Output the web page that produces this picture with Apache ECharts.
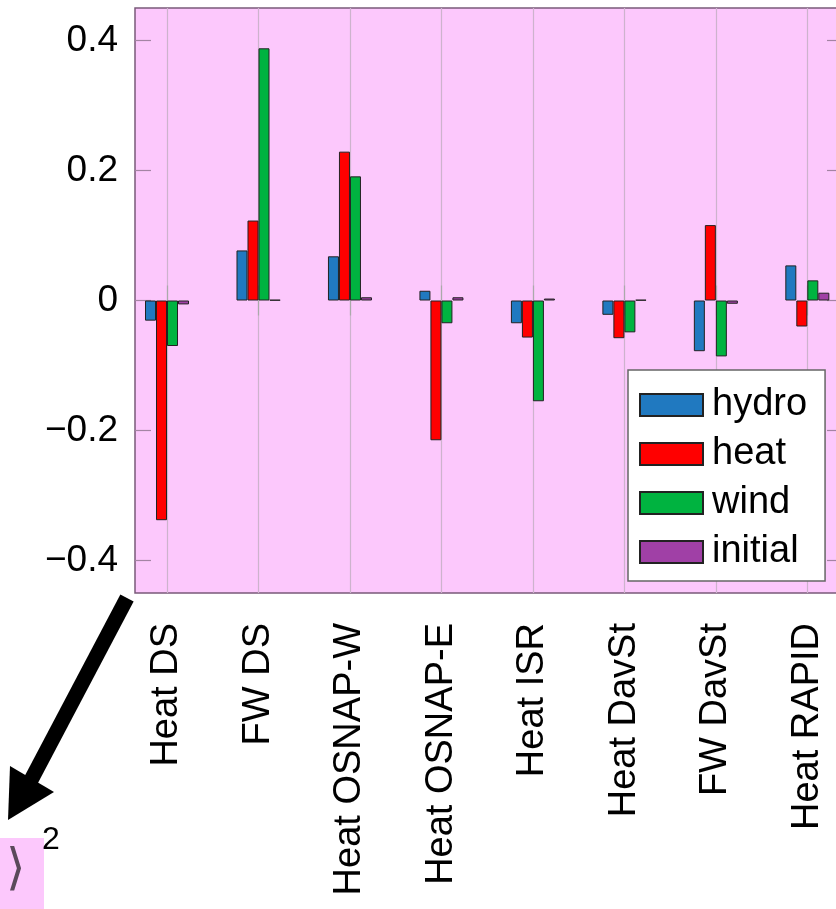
<!DOCTYPE html>
<html>
<head>
<meta charset="utf-8">
<script src="https://cdn.jsdelivr.net/npm/echarts@6/dist/echarts.min.js"></script>
<style>
  html, body { margin: 0; padding: 0; background: #fff; }
  #chart { width: 836px; height: 909px; }
</style>
</head>
<body>
<div id="chart"></div>
<script>
// initialize the echarts instance
var myChart = echarts.init(document.getElementById("chart"));
var option;

// categories along x (placed at 1..8)
const categories = ["Heat DS", "FW DS", "Heat OSNAP-W", "Heat OSNAP-E", "Heat ISR", "Heat DavSt", "FW DavSt", "Heat RAPID"];

// values
const hydro   = [-0.031, 0.077, 0.068,  0.015, -0.035, -0.022, -0.078,  0.054];
const heat    = [-0.338, 0.123, 0.229, -0.215, -0.057, -0.058,  0.116, -0.040];
const wind    = [-0.070, 0.388, 0.191, -0.035, -0.155, -0.049, -0.086,  0.031];
const initial = [-0.006, 0.001, 0.005,  0.005,  0.003,  0.001, -0.005,  0.012];

const yTicks = [-0.4, -0.2, 0, 0.2, 0.4];
const xTicks = categories.map((c, i) => i + 1);

const font = "Liberation Sans";

function barSeries(name, values, color) {
    return {
        name: name,
        type: "bar",
        barWidth: 11,
        barGap: "0%",
        data: values.map((v, i) => [i + 1, v]),
        itemStyle: { color: color, borderColor: "#222", borderWidth: 1 },
        emphasis: { disabled: true },
    };
}

option = {
    animation: false,
    textStyle: { fontFamily: font },
    // plot area runs a little past the right edge of the picture
    grid: {
        left: 135, top: 8, width: 708, height: 585,
        outerBoundsMode: "none",
        containLabel: false,
        show: true,
        backgroundColor: "#fcc8fc",
        borderColor: "#7a5a7a",
        borderWidth: 1.5,
    },
    legend: {
        orient: "vertical",
        left: 628, top: 370,
        backgroundColor: "#fff",
        borderColor: "#666",
        borderWidth: 1.5,
        borderRadius: 0,
        padding: [16, 18, 10, 11],
        itemWidth: 63, itemHeight: 22, itemGap: 11,
        icon: "rect",
        textStyle: { fontFamily: font, fontSize: 38, lineHeight: 38, color: "#000", padding: [0, 0, 0, 4] },
        data: ["hydro", "heat", "wind", "initial"],
    },
    xAxis: [
        {
            type: "value",
            min: 0.65, max: 8.39,
            axisLine: { show: false },
            axisTick: { show: true, inside: false, length: 15, customValues: xTicks, lineStyle: { color: "#aaa", width: 1.2 } },
            axisLabel: {
                customValues: xTicks,
                rotate: 90, margin: 30,
                fontSize: 38, color: "#000", fontFamily: font,
                formatter: (v) => categories[Math.round(v) - 1] || "",
            },
            splitLine: { show: true, lineStyle: { color: "#cdb3cd", width: 1.2 } },
        },
        {
            type: "value",
            position: "top",
            min: 0.65, max: 8.39,
            axisLine: { show: false },
            axisTick: { show: true, inside: false, length: 15, customValues: xTicks, lineStyle: { color: "#aaa", width: 1.2 } },
            axisLabel: { show: false },
            splitLine: { show: false },
        },
    ],
    yAxis: [
        {
            type: "value",
            min: -0.45, max: 0.45,
            axisLine: { show: false },
            axisTick: { show: true, inside: true, length: 16, customValues: yTicks, lineStyle: { color: "#a484a4", width: 1.2 } },
            axisLabel: {
                customValues: yTicks,
                margin: 17, fontSize: 37, color: "#000", fontFamily: font,
                formatter: (v) => String(v).replace("-", "\u2212"),
            },
            splitLine: { show: false },
        },
        {
            type: "value",
            position: "right",
            min: -0.45, max: 0.45,
            axisLine: { show: false },
            axisTick: { show: true, inside: true, length: 16, customValues: yTicks, lineStyle: { color: "#a484a4", width: 1.2 } },
            axisLabel: { show: false },
            splitLine: { show: false },
        },
    ],
    series: [
        barSeries("hydro", hydro, "#2079c0"),
        barSeries("heat", heat, "#ff0000"),
        barSeries("wind", wind, "#00b340"),
        barSeries("initial", initial, "#a040a6"),
    ],
    graphic: [
        // arrow pointing down-left
        { type: "polyline", shape: { points: [[127, 598], [30, 782]] }, style: { stroke: "#000", lineWidth: 15, fill: null } },
        { type: "polygon", shape: { points: [[8, 820], [10, 766], [54, 792]] }, style: { fill: "#000" } },
        // fragment of a neighbouring panel
        { type: "rect", shape: { x: 0, y: 838, width: 44, height: 71 }, style: { fill: "#fcc8fc" } },
        { type: "text", left: 6, top: 846, style: { text: "\u27E9", font: "50px 'DejaVu Sans'", fill: "#5a4a5a" } },
        { type: "text", left: 42, top: 824, style: { text: "2", font: "32px 'Liberation Sans'", fill: "#000" } },
    ],
};

option && myChart.setOption(option);
</script>
</body>
</html>
